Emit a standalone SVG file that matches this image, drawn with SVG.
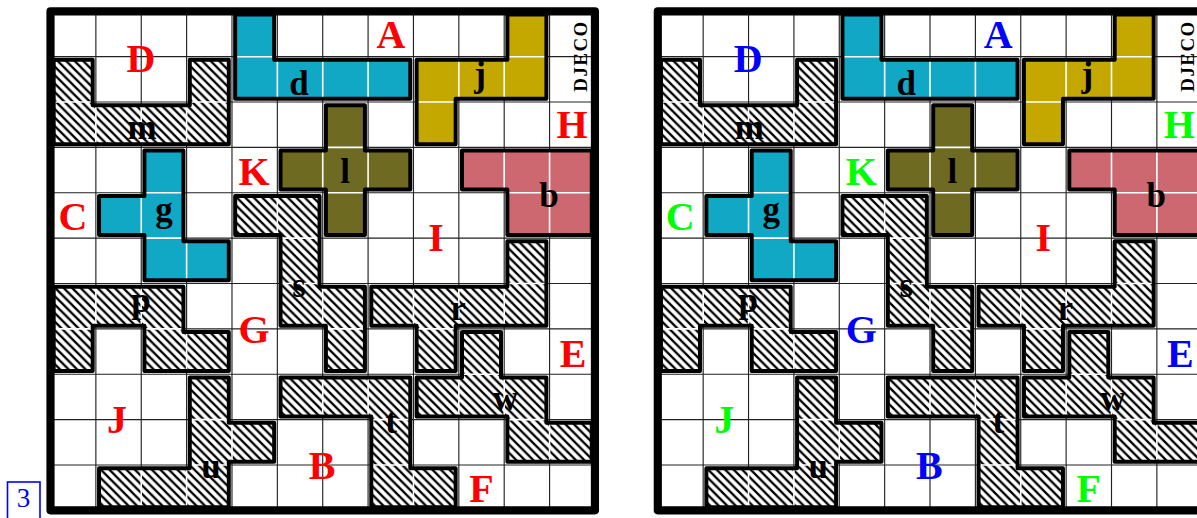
<svg xmlns="http://www.w3.org/2000/svg" xmlns:xlink="http://www.w3.org/1999/xlink" width="1197" height="518" viewBox="0 0 1197 518">
<style>
.grid{stroke:#222;stroke-width:0.025;fill:none}
.border{fill:none;stroke:#000;stroke-width:0.18;stroke-linejoin:round}
.ol{fill:none;stroke:#000;stroke-width:0.088;stroke-linejoin:round}
.wl{stroke:#fff;stroke-width:0.035;fill:none}
.cyan{fill:#10a8c5}
.gold{fill:#c4a800}
.olive{fill:#6e6a22}
.pink{fill:#cd6870}
.hatch{fill:url(#hatch)}
.pl{font-family:"Liberation Serif",serif;font-weight:bold;font-size:35px;fill:#000;text-anchor:middle}
.cap{font-family:"Liberation Serif",serif;font-weight:bold;font-size:40px;text-anchor:middle}
.red{fill:#f00}.blue{fill:#00f}.green{fill:#0f0}
</style>
<defs>
<pattern id="hatch" patternUnits="userSpaceOnUse" width="8.5" height="8.5" patternTransform="scale(0.022041)">
<rect width="8.5" height="8.5" fill="#fff"/>
<path d="M-1,-1L9.5,9.5M-1,7.5L1,9.5M7.5,-1L9.5,1" stroke="#000" stroke-width="2.3"/>
</pattern>
</defs>

<g id="boardL" transform="translate(50.5,11.3)">
 <g transform="scale(45.37)">
  <rect width="12" height="11" fill="#fff"/>
  <path class="grid" d="M1,0V11M2,0V11M3,0V11M4,0V11M5,0V11M6,0V11M7,0V11M8,0V11M9,0V11M10,0V11M11,0V11M0,1H12M0,2H12M0,3H12M0,4H12M0,5H12M0,6H12M0,7H12M0,8H12M0,9H12M0,10H12"/>
  <g id="piece-d">
   <path class="cyan" d="M4.07,0.07H4.93V1.07H7.93V1.93H4.07Z"/>
   <path class="wl" d="M4.07,1H4.93M5,1.07V1.93M6,1.07V1.93M7,1.07V1.93"/>
   <path class="ol" d="M4.07,0.07H4.93V1.07H7.93V1.93H4.07Z"/>
  </g>
  <g id="piece-j">
   <path class="gold" d="M10.07,0.07H10.93V1.93H8.93V2.93H8.07V1.07H10.07Z"/>
   <path class="wl" d="M10.07,1H10.93M9,1.07V1.93M10,1.07V1.93M8.07,2H8.93"/>
   <path class="ol" d="M10.07,0.07H10.93V1.93H8.93V2.93H8.07V1.07H10.07Z"/>
  </g>
  <g id="piece-m">
   <path class="hatch" d="M0.07,1.07H0.93V2.07H3.07V1.07H3.93V2.93H0.07Z"/>
   <path class="wl" d="M0.07,2H0.93M3.07,2H3.93M1,2.07V2.93M2,2.07V2.93M3,2.07V2.93"/>
   <path class="ol" d="M0.07,1.07H0.93V2.07H3.07V1.07H3.93V2.93H0.07Z"/>
  </g>
  <g id="piece-l">
   <path class="olive" d="M6.07,2.07H6.93V3.07H7.93V3.93H6.93V4.93H6.07V3.93H5.07V3.07H6.07Z"/>
   <path class="wl" d="M6.07,3H6.93M6.07,4H6.93M6,3.07V3.93M7,3.07V3.93"/>
   <path class="ol" d="M6.07,2.07H6.93V3.07H7.93V3.93H6.93V4.93H6.07V3.93H5.07V3.07H6.07Z"/>
  </g>
  <g id="piece-b">
   <path class="pink" d="M9.07,3.07H11.93V4.93H10.07V3.93H9.07Z"/>
   <path class="wl" d="M10,3.07V3.93M11,3.07V4.93M10.07,4H11.93"/>
   <path class="ol" d="M9.07,3.07H11.93V4.93H10.07V3.93H9.07Z"/>
  </g>
  <g id="piece-g">
   <path class="cyan" d="M2.07,3.07H2.93V5.07H3.93V5.93H2.07V4.93H1.07V4.07H2.07Z"/>
   <path class="wl" d="M2.07,4H2.93M2,4.07V4.93M2.07,5H2.93M3,5.07V5.93"/>
   <path class="ol" d="M2.07,3.07H2.93V5.07H3.93V5.93H2.07V4.93H1.07V4.07H2.07Z"/>
  </g>
  <g id="piece-s">
   <path class="hatch" d="M4.07,4.07H5.93V6.07H6.93V7.93H6.07V6.93H5.07V4.93H4.07Z"/>
   <path class="wl" d="M5,4.07V4.93M5.07,5H5.93M5.07,6H5.93M6,6.07V6.93M6.07,7H6.93"/>
   <path class="ol" d="M4.07,4.07H5.93V6.07H6.93V7.93H6.07V6.93H5.07V4.93H4.07Z"/>
  </g>
  <g id="piece-p">
   <path class="hatch" d="M0.07,6.07H2.93V7.07H3.93V7.93H2.07V6.93H0.93V7.93H0.07Z"/>
   <path class="wl" d="M1,6.07V6.93M2,6.07V6.93M0.07,7H0.93M2.07,7H2.93M3,7.07V7.93"/>
   <path class="ol" d="M0.07,6.07H2.93V7.07H3.93V7.93H2.07V6.93H0.93V7.93H0.07Z"/>
  </g>
  <g id="piece-r">
   <path class="hatch" d="M10.07,5.07H10.93V6.93H8.93V7.93H8.07V6.93H7.07V6.07H10.07Z"/>
   <path class="wl" d="M10.07,6H10.93M8,6.07V6.93M9,6.07V6.93M10,6.07V6.93M8.07,7H8.93"/>
   <path class="ol" d="M10.07,5.07H10.93V6.93H8.93V7.93H8.07V6.93H7.07V6.07H10.07Z"/>
  </g>
  <g id="piece-w">
   <path class="hatch" d="M9.07,7.07H9.93V8.07H10.93V9.07H11.93V9.93H10.07V8.93H8.07V8.07H9.07Z"/>
   <path class="wl" d="M9.07,8H9.93M9,8.07V8.93M10,8.07V8.93M10.07,9H10.93M11,9.07V9.93"/>
   <path class="ol" d="M9.07,7.07H9.93V8.07H10.93V9.07H11.93V9.93H10.07V8.93H8.07V8.07H9.07Z"/>
  </g>
  <g id="piece-t">
   <path class="hatch" d="M5.07,8.07H7.93V10.07H8.93V10.93H7.07V8.93H5.07Z"/>
   <path class="wl" d="M6,8.07V8.93M7,8.07V8.93M7.07,9H7.93M7.07,10H7.93M8,10.07V10.93"/>
   <path class="ol" d="M5.07,8.07H7.93V10.07H8.93V10.93H7.07V8.93H5.07Z"/>
  </g>
  <g id="piece-u">
   <path class="hatch" d="M3.07,8.07H3.93V9.07H4.93V9.93H3.93V10.93H1.07V10.07H3.07Z"/>
   <path class="wl" d="M3.07,9H3.93M4,9.07V9.93M3.07,10H3.93M2,10.07V10.93M3,10.07V10.93"/>
   <path class="ol" d="M3.07,8.07H3.93V9.07H4.93V9.93H3.93V10.93H1.07V10.07H3.07Z"/>
  </g>
  <rect class="border" width="12" height="11"/>
 </g>
 <g id="piece-letters">
  <text class="pl" x="248.5" y="83.7">d</text>
  <text class="pl" x="429.5" y="74.7">j</text>
  <text class="pl" x="91.5" y="127.7">m</text>
  <text class="pl" x="294.5" y="171.7">l</text>
  <text class="pl" x="498.5" y="195.4">b</text>
  <text class="pl" x="113.5" y="209.7">g</text>
  <text class="pl" x="248.5" y="285.4">s</text>
  <text class="pl" x="90.5" y="300.7">p</text>
  <text class="pl" x="407.5" y="308.7">r</text>
  <text class="pl" x="455" y="398.7">w</text>
  <text class="pl" x="340.5" y="421.7">t</text>
  <text class="pl" x="160.5" y="466.7">u</text>
  <text transform="translate(536.5,45.4) rotate(-90)" text-anchor="middle" font-family="Liberation Serif, serif" font-weight="bold" font-size="19" textLength="70" fill="#000">DJECO</text>
 </g>
</g>

<g id="boardR">
 <use href="#boardL" xlink:href="#boardL" transform="translate(607.3,0)"/>
</g>

<g id="labels-left">
 <text class="cap red" x="141" y="72">D</text>
 <text class="cap red" x="391" y="48">A</text>
 <text class="cap red" x="572" y="138">H</text>
 <text class="cap red" x="254" y="185">K</text>
 <text class="cap red" x="73" y="230">C</text>
 <text class="cap red" x="436" y="251">I</text>
 <text class="cap red" x="254" y="343">G</text>
 <text class="cap red" x="573" y="366.5">E</text>
 <text class="cap red" x="117" y="433">J</text>
 <text class="cap red" x="322" y="479">B</text>
 <text class="cap red" x="481.5" y="501.5">F</text>
</g>

<g id="labels-right">
 <text class="cap blue" x="748.3" y="72">D</text>
 <text class="cap blue" x="998.3" y="48">A</text>
 <text class="cap green" x="1179.3" y="138">H</text>
 <text class="cap green" x="861.3" y="185">K</text>
 <text class="cap green" x="680.3" y="230">C</text>
 <text class="cap red" x="1043.3" y="251">I</text>
 <text class="cap blue" x="861.3" y="343">G</text>
 <text class="cap blue" x="1180.3" y="366.5">E</text>
 <text class="cap green" x="724.3" y="433">J</text>
 <text class="cap blue" x="929.3" y="479">B</text>
 <text class="cap green" x="1088.8" y="501.5">F</text>
</g>

<g id="page-number">
 <rect x="7.5" y="482" width="32.5" height="40" fill="none" stroke="#00f" stroke-width="1.6"/>
 <text x="23.5" y="507" text-anchor="middle" font-family="Liberation Serif, serif" font-size="27" fill="#00f">3</text>
</g>
</svg>
